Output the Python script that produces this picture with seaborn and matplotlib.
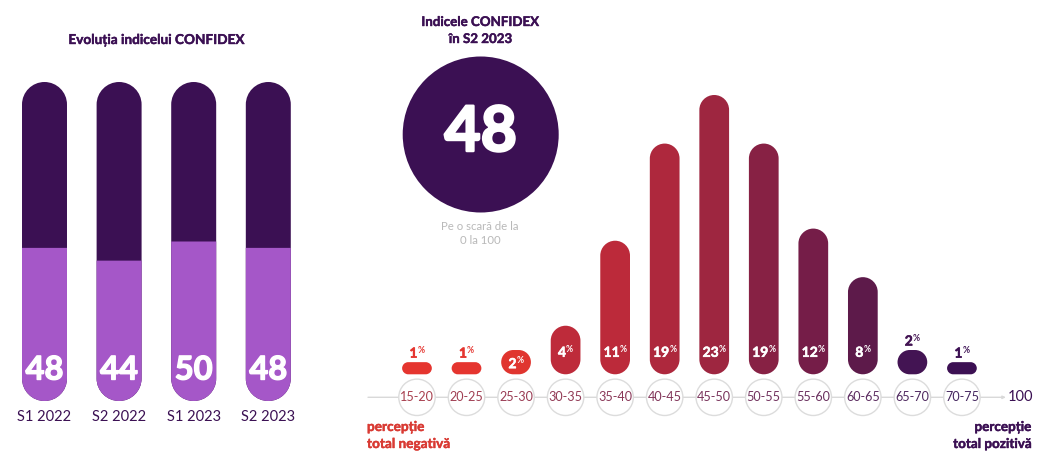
import matplotlib
matplotlib.use("Agg")
import matplotlib.pyplot as plt
import matplotlib.patheffects as pe
from matplotlib.patches import Circle, PathPatch
from matplotlib.path import Path
from matplotlib.transforms import IdentityTransform
import seaborn as sns

# date grafic stanga
semestre = ["S1 2022", "S2 2022", "S1 2023", "S2 2023"]
indice = [48, 44, 50, 48]
scala = [100, 100, 100, 100]

# date grafic dreapta
intervale = ["15-20", "20-25", "25-30", "30-35", "35-40", "40-45",
             "45-50", "50-55", "55-60", "60-65", "65-70", "70-75"]
procente = [1, 1, 2, 4, 11, 19, 23, 19, 12, 8, 2, 1]
culori = ["#E5352F", "#E5352F", "#E0352F", "#BE2B3A", "#BC2A3A", "#AE283D",
          "#9E2640", "#872144", "#751D48", "#5D1A4A", "#431453", "#3C1053"]
culori_text = ["#A8404F", "#A03E52", "#9A3C54", "#923A55", "#8A3858", "#82365A",
               "#7A345C", "#72325E", "#6A305E", "#5C2C60", "#502A60", "#462860"]

MOV = "#3B1053"
LILA = "#A557C8"
W, H = 1047, 467

sns.set_theme(style="white")
plt.rcParams["font.family"] = ["Lato", "DejaVu Sans"]

fig = plt.figure(figsize=(W / 100, H / 100), dpi=100, facecolor="white")


def pozitie(x0, x1, y_sus, y_jos):
    return [x0 / W, 1 - y_jos / H, (x1 - x0) / W, (y_jos - y_sus) / H]


def pastila(ax, bara, sus_rotund=True, r=None):
    # forma rotunjita peste bara desenata de seaborn, in pixeli
    x0, y0 = ax.transData.transform((bara.get_x(), bara.get_y()))
    x1, y1 = ax.transData.transform((bara.get_x() + bara.get_width(), bara.get_y() + bara.get_height()))
    if r is None:
        r = min(x1 - x0, y1 - y0) / 2
    k = r * 0.5523
    v = [(x0 + r, y0), (x1 - r, y0),
         (x1 - r + k, y0), (x1, y0 + r - k), (x1, y0 + r)]
    c = [Path.MOVETO, Path.LINETO, Path.CURVE4, Path.CURVE4, Path.CURVE4]
    if sus_rotund:
        v += [(x1, y1 - r), (x1, y1 - r + k), (x1 - r + k, y1), (x1 - r, y1),
              (x0 + r, y1), (x0 + r - k, y1), (x0, y1 - r + k), (x0, y1 - r)]
        c += [Path.LINETO, Path.CURVE4, Path.CURVE4, Path.CURVE4,
              Path.LINETO, Path.CURVE4, Path.CURVE4, Path.CURVE4]
    else:
        v += [(x1, y1), (x0, y1)]
        c += [Path.LINETO, Path.LINETO]
    v += [(x0, y0 + r), (x0, y0 + r - k), (x0 + r - k, y0), (x0 + r, y0), (x0 + r, y0)]
    c += [Path.LINETO, Path.CURVE4, Path.CURVE4, Path.CURVE4, Path.CLOSEPOLY]
    culoare = bara.get_facecolor()
    bara.set_visible(False)
    ax.add_patch(PathPatch(Path(v, c), transform=IdentityTransform(), facecolor=culoare,
                           edgecolor="none", clip_on=False))


##############################################################
# stanga

ax1 = fig.add_axes(pozitie(7.2, 305.6, 82, 401))
sns.barplot(x=semestre, y=scala, color=MOV, width=0.603, saturation=1, linewidth=0, ax=ax1)
n_fundal = len(ax1.patches)
sns.barplot(x=semestre, y=indice, color=LILA, width=0.603, saturation=1, linewidth=0, ax=ax1)
ax1.set_xlim(-0.5, 3.5)
ax1.set_ylim(0, 100)
ax1.axis("off")

bare1 = list(ax1.patches)
for bara in bare1[:n_fundal]:
    pastila(ax1, bara)
r1 = bare1[0].get_width() / 4 * (ax1.transData.transform((1, 0))[0] - ax1.transData.transform((0, 0))[0]) * 2
for bara in bare1[n_fundal:]:
    pastila(ax1, bara, sus_rotund=False, r=r1)

##############################################################
# dreapta

ax2 = fig.add_axes(pozitie(392.2, 986.7, 95, 374.3))
sns.barplot(x=intervale, y=procente, hue=intervale, palette=culori, legend=False,
            width=0.6, saturation=1, linewidth=0, ax=ax2)
ax2.set_xlim(-0.5, 11.5)
ax2.set_ylim(0, 23)
ax2.axis("off")

for bara in list(ax2.patches):
    if bara.get_height() > 0:
        pastila(ax2, bara)

##############################################################
# texte si cercuri, in pixeli

ov = fig.add_axes([0, 0, 1, 1], zorder=5)
ov.set_xlim(0, W)
ov.set_ylim(H, 0)
ov.axis("off")
rend = fig.canvas.get_renderer()


def px(ax, x, y):
    return ov.transData.inverted().transform(ax.transData.transform((x, y)))


def scrie(x, y, s, size, color, weight="normal", ha="center", gros=0):
    t = ov.text(x, y, s, fontsize=size, color=color, fontweight=weight, ha=ha, va="center")
    if gros:
        t.set_path_effects([pe.withStroke(linewidth=gros, foreground=color)])
    return t


scrie(157, 40, "Evoluția indicelui CONFIDEX", 9.8, MOV, "bold", gros=0.3)
for i, (s, v) in enumerate(zip(semestre, indice)):
    cx, _ = px(ax1, i, 0)
    scrie(cx, 370, str(v), 23.5, "white", "bold", gros=1)
    scrie(cx, 417, s, 10.5, MOV)

# cercul mare
ov.add_patch(Circle((480.7, 134.5), 78, facecolor=MOV, edgecolor="none"))
scrie(480.7, 133, str(indice[-1]), 45, "white", "bold", gros=1.8)
scrie(480.7, 22, "Indicele CONFIDEX", 9.6, MOV, "bold", gros=0.3)
scrie(480.7, 39, "în S2 2023", 9.6, MOV, "bold", gros=0.3)
scrie(480, 226, "Pe o scară de la", 8.2, "#B9B9B9")
scrie(480, 241, "0 la 100", 8.2, "#B9B9B9")

# axa cu sageata
ov.annotate("", xy=(1006, 397.3), xytext=(368, 397.3),
            arrowprops=dict(arrowstyle="-|>,head_length=0.15,head_width=0.07", color="#D9D9D9", lw=1, shrinkA=0, shrinkB=0))
scrie(1020.5, 397.3, "100", 10.5, MOV)

for i, (interval, v) in enumerate(zip(intervale, procente)):
    cx, _ = px(ax2, i, 0)
    ov.add_patch(Circle((cx, 397.3), 18.2, facecolor="white", edgecolor="#DCDCDC", lw=1, zorder=3))
    scrie(cx, 397.3, interval, 9.1, culori_text[i]).set_zorder(4)

    # eticheta: in bara daca incape, altfel deasupra
    _, sus = px(ax2, i, v)
    _, jos = px(ax2, i, 0)
    if v >= 4:
        y, col = jos - 21.5, "white"
    elif i == 2:
        y, col = (sus + jos) / 2 + 2, "white"
    else:
        y, col = sus - 8.5, culori[i]
    t1 = scrie(cx, y, str(v), 10, col, "bold", ha="left", gros=0.4)
    t2 = scrie(cx, y - 3.5, "%", 6.2, col, "bold", ha="left")
    w1 = t1.get_window_extent(rend).width
    w2 = t2.get_window_extent(rend).width
    t1.set_x(cx - (w1 + w2) / 2)
    t2.set_x(cx - (w1 + w2) / 2 + w1)

scrie(367, 427, "percepție", 9.8, "#D93A33", "bold", ha="left", gros=0.3)
scrie(367, 444, "total negativă", 9.8, "#D93A33", "bold", ha="left", gros=0.3)
scrie(1032, 427, "percepție", 9.7, MOV, "bold", ha="right", gros=0.3)
scrie(1032, 444, "total pozitivă", 9.7, MOV, "bold", ha="right", gros=0.3)

fig.savefig("out.png", dpi=100, facecolor="white")
